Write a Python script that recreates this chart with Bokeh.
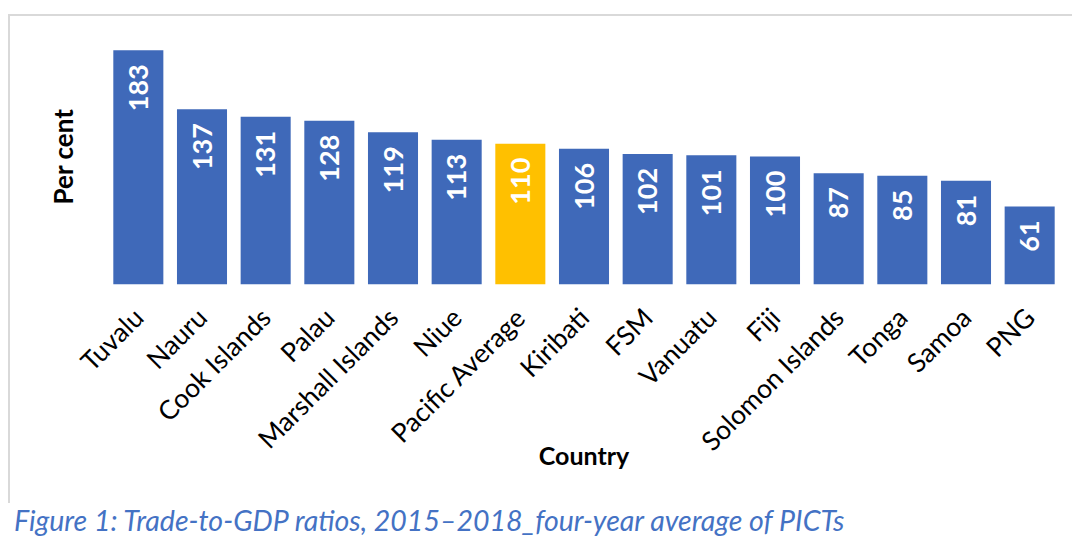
from math import pi
from bokeh.plotting import figure
from bokeh.models import Range1d, Spacer, ColumnDataSource, Div, FixedTicker
from bokeh.layouts import column, row
from bokeh.embed import file_html
from bokeh.resources import INLINE
from bokeh.core.properties import value

countries = ["Tuvalu", "Nauru", "Cook Islands", "Palau", "Marshall Islands", "Niue",
             "Pacific Average", "Kiribati", "FSM", "Vanuatu", "Fiji", "Solomon Islands",
             "Tonga", "Samoa", "PNG"]
ratios = [183, 137, 131, 128, 119, 113, 110, 106, 102, 101, 100, 87, 85, 81, 61]
highlight = "Pacific Average"
x_title = "Country"
y_title = "Per cent"
caption = "Figure 1: Trade-to-GDP ratios, 2015\u20132018_four-year average of PICTs"

BLUE = "#3F69B9"
GOLD = "#FFC000"
FONT = "Lato"

colors = [GOLD if c == highlight else BLUE for c in countries]
src = ColumnDataSource(dict(country=countries, ratio=ratios, color=colors,
                            label=[str(v) for v in ratios]))

p = figure(x_range=countries, y_range=Range1d(0, 200), width=1064, height=489,
           output_backend="svg", toolbar_location=None,
           min_border_left=96, min_border_right=13, min_border_top=12, min_border_bottom=221,
           background_fill_color="white", border_fill_color="white")
p.styles = {"border-top": "2px solid #d9d9d9", "border-left": "2px solid #d9d9d9"}
p.outline_line_color = None
p.grid.grid_line_color = None

p.vbar(x="country", top="ratio", width=0.786, fill_color="color", line_color=None, source=src)
p.text(x="country", y="ratio", text="label", angle=pi / 2, text_align="right",
       text_baseline="middle", y_offset=14, text_color="white",
       text_font=value(FONT), text_font_style="bold", text_font_size="27px", source=src)

xa = p.xaxis[0]
xa.major_label_orientation = pi / 4
xa.major_label_text_font = FONT
xa.major_label_text_font_size = "26.5px"
xa.major_label_text_color = "black"
xa.major_label_standoff = 22
xa.axis_line_color = None
xa.major_tick_line_color = None
xa.minor_tick_line_color = None
xa.axis_label = x_title
xa.axis_label_text_font = FONT
xa.axis_label_text_font_style = "bold"
xa.axis_label_text_font_size = "25px"
xa.axis_label_text_color = "black"
xa.axis_label_standoff = -31

ya = p.yaxis[0]
ya.ticker = FixedTicker(ticks=[])
ya.axis_line_color = None
ya.major_tick_line_color = None
ya.minor_tick_line_color = None
ya.axis_label = y_title
ya.axis_label_text_font = FONT
ya.axis_label_text_font_style = "bold"
ya.axis_label_text_font_size = "26px"
ya.axis_label_text_color = "black"
ya.axis_label_standoff = 28

cap = Div(text=('<div style="font-family:Lato;font-style:italic;font-size:28.5px;'
                'color:#4472C4;line-height:24px;padding-left:9px;padding-top:0px;'
                'white-space:nowrap">' + caption + '</div>'),
          width=1064, height=16, styles={"overflow": "visible"})

layout = column(Spacer(height=14), row(Spacer(width=8), p), cap)
open("out.html", "w").write(file_html(layout, INLINE))
